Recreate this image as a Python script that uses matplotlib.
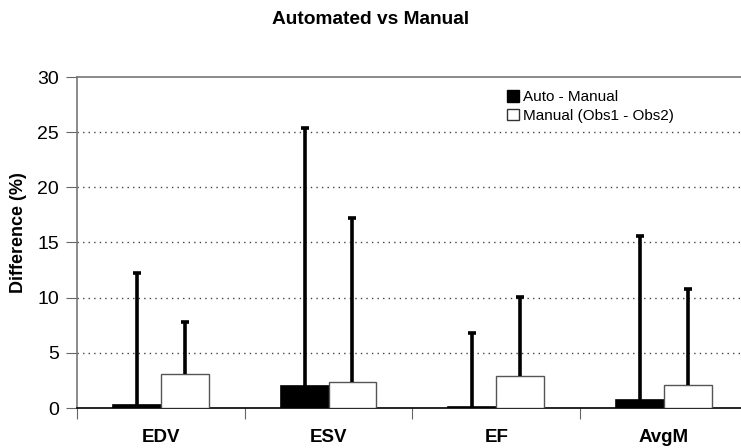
import numpy as np
import matplotlib.pyplot as plt
from matplotlib.patches import Patch

plt.rcParams['font.family'] = ['Liberation Sans', 'DejaVu Sans']

categories = ["EDV", "ESV", "EF", "AvgM"]
auto_vals = [0.25, 2.0, 0.1, 0.7]
auto_top = [12.2, 25.4, 6.8, 15.6]
manual_vals = [3.1, 2.4, 2.9, 2.1]
manual_top = [7.8, 17.2, 10.1, 10.8]

fig = plt.figure(figsize=(7.41, 4.48), dpi=100)
ax = fig.add_axes([77 / 741, 1 - 408 / 448, 664 / 741, 331 / 448])

x = np.arange(len(categories))
w = 0.286
auto_err = [np.zeros(4), np.array(auto_top) - np.array(auto_vals)]
man_err = [np.zeros(4), np.array(manual_top) - np.array(manual_vals)]

ax.bar(x - w / 2, auto_vals, w, color="black", edgecolor="black", lw=1.2, zorder=3)
ax.bar(x + w / 2, manual_vals, w, color="white", edgecolor="#555555", lw=1.0, zorder=3)
for xs, vals, err in [(x - w / 2, auto_vals, auto_err), (x + w / 2, manual_vals, man_err)]:
    eb = ax.errorbar(xs, vals, yerr=err, fmt="none", ecolor="black",
                     elinewidth=2.6, capsize=3, capthick=2.6, zorder=4)
    # only the upper cap is drawn in the original
    eb[1][0].set_visible(False)

ax.set_xlim(-0.5, 3.46)
ax.set_ylim(0, 30)
ax.set_yticks(range(0, 31, 5))
for yv in range(5, 30, 5):
    ax.axhline(yv, color="#444444", lw=1.0, ls=(0, (1, 3)), zorder=1)

ax.set_xticks(np.arange(-0.5, 3.5, 1), minor=False)
ax.set_xticklabels([])
ax.set_xticks(x, minor=True)
ax.set_xticklabels(categories, minor=True, fontsize=13.5, fontweight="bold")
ax.tick_params(axis="x", which="major", direction="out", length=8, color="#666666")
ax.tick_params(axis="x", which="minor", length=0, pad=15)
ax.tick_params(axis="y", direction="out", length=8, color="#666666",
               labelsize=14, pad=5)

for s in ["left", "top"]:
    ax.spines[s].set_color("#777777")
    ax.spines[s].set_linewidth(1.2)
ax.spines["bottom"].set_color("black")
ax.spines["bottom"].set_linewidth(1.2)
ax.spines["right"].set_visible(False)

ax.set_ylabel("Difference (%)", fontsize=13, fontweight="bold")
ax.yaxis.set_label_coords(-0.075, 0.53)

fig.text(0.5, 1 - 20 / 448, "Automated vs Manual", ha="center", va="center",
         fontsize=13.8, fontweight="bold")

handles = [Patch(facecolor="black", edgecolor="black", label="Auto - Manual"),
           Patch(facecolor="white", edgecolor="#333333", label="Manual (Obs1 - Obs2)")]
ax.legend(handles=handles, loc="upper left", bbox_to_anchor=(0.639, 0.978),
          frameon=False, fontsize=11, handlelength=0.75, handleheight=0.75,
          handletextpad=0.25, labelspacing=0.3, borderaxespad=0)

fig.savefig("out.png", dpi=100)
